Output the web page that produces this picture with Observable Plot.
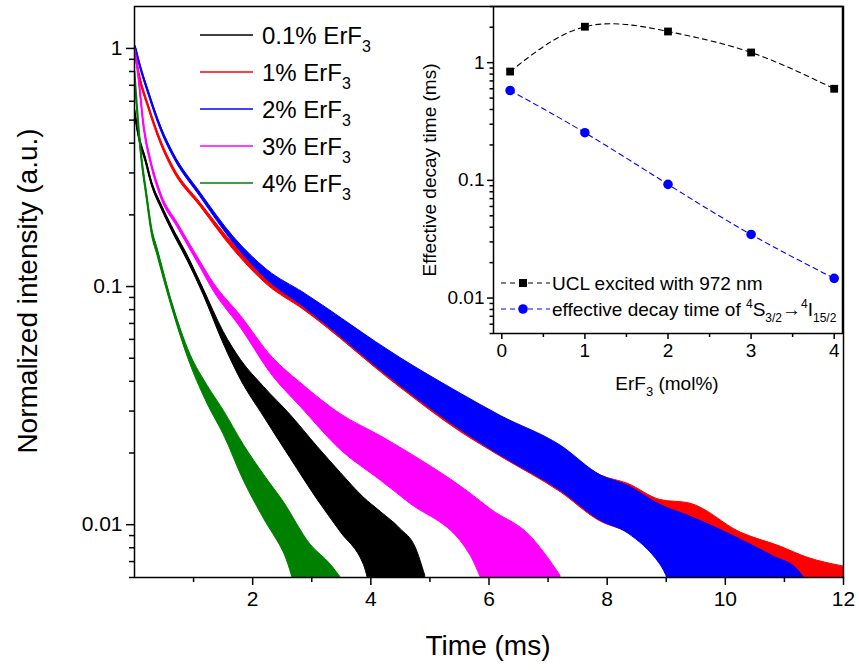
<!DOCTYPE html>
<html><head><meta charset="utf-8">
<script src="https://cdn.jsdelivr.net/npm/d3@7"></script>
<script src="https://cdn.jsdelivr.net/npm/@observablehq/plot@0.6"></script>
<style>
body{margin:0;background:#fff;}
#wrap{position:relative;width:859px;height:670px;font-family:"Liberation Sans",Arial,sans-serif;}
#inset{position:absolute;left:400px;top:0;}
svg{overflow:visible;}
</style>
</head><body><div id="wrap"><div id="main"></div><div id="inset"></div></div>
<script>
// ---- main chart data: [time (ms), lower envelope, centre, upper envelope] (normalized intensity)
const black01 = [
[0.00,0.540,0.550,0.561],[0.07,0.424,0.432,0.441],[0.19,0.332,0.339,0.346],[0.29,0.267,0.272,0.277],
[0.46,0.211,0.2154,0.220],[0.63,0.172,0.176,0.180],[0.90,0.128,0.1317,0.135],[1.17,0.092,0.0948,0.0976],
[1.51,0.0574,0.0608,0.0644],[1.80,0.0406,0.0447,0.0492],[2.19,0.0284,0.0328,0.0379],[2.64,0.0190,0.0234,0.0289],
[3.10,0.0127,0.0164,0.0212],[3.49,0.0093,0.0125,0.0165],[3.88,0.0068,0.0095,0.0130],[4.17,0.004,0.0082,0.0113],
[4.50,0.004,0.0070,0.0096],[4.76,0.004,0.0060,0.0080],[4.92,0.004,0.0050,0.0061]
];
const red1 = [
[0.00,0.98,1.0,1.02],[0.07,0.778,0.793,0.808],[0.24,0.555,0.566,0.577],[0.46,0.388,0.396,0.404],
[0.66,0.305,0.311,0.317],[1.12,0.216,0.220,0.224],[1.68,0.1423,0.1464,0.1506],[2.25,0.1015,0.1065,0.1117],
[2.86,0.0800,0.0855,0.0915],[4.50,0.0376,0.0430,0.0492],[5.52,0.0245,0.0292,0.0347],[6.20,0.0193,0.0234,0.0284],
[7.21,0.0137,0.0171,0.0213],[7.89,0.0103,0.0129,0.0161],[8.35,0.0093,0.01178,0.01485],[8.90,0.0076,0.0103,0.0127],
[9.41,0.0045,0.0089,0.01225],[10.26,0.004,0.0072,0.00926],[10.93,0.004,0.0062,0.00809],[11.39,0.004,0.0055,0.00727],
[12.0,0.004,0.0050,0.00667]
];
const blue2 = [
[0.02,0.98,1.0,1.02],[0.07,0.874,0.891,0.908],[0.24,0.636,0.648,0.661],[0.46,0.444,0.453,0.462],
[0.66,0.349,0.356,0.363],[1.12,0.237,0.242,0.247],[1.68,0.152,0.1567,0.1613],[2.25,0.1065,0.1117,0.1172],
[2.86,0.0823,0.0880,0.0942],[4.50,0.0383,0.0438,0.0501],[5.52,0.0250,0.0298,0.0355],[6.20,0.0195,0.0236,0.0286],
[7.21,0.0139,0.0173,0.0215],[7.89,0.0104,0.0129,0.0161],[8.35,0.0092,0.01156,0.01458],[8.90,0.0068,0.0095,0.0121],
[9.41,0.004,0.0080,0.0108],[10.26,0.004,0.0065,0.00865],[10.82,0.004,0.0055,0.00734],[11.22,0.004,0.0050,0.00648],
[11.35,0.004,0.0050,0.0059]
];
const magenta3 = [
[0.00,0.98,1.0,1.02],[0.05,0.817,0.833,0.850],[0.16,0.457,0.466,0.475],[0.29,0.317,0.323,0.329],
[0.46,0.232,0.237,0.242],[0.73,0.177,0.181,0.185],[1.12,0.1196,0.1231,0.1267],[1.34,0.0957,0.0995,0.1034],
[1.80,0.0670,0.0710,0.0752],[2.34,0.0421,0.0460,0.0502],[2.81,0.0313,0.0351,0.0394],[3.49,0.0206,0.0245,0.0291],
[4.17,0.0153,0.0190,0.0235],[4.62,0.0125,0.0159,0.0202],[5.69,0.0074,0.0100,0.0135],[6.03,0.0050,0.0087,0.0116],
[6.71,0.004,0.0068,0.0089],[6.96,0.004,0.0060,0.00748],[7.21,0.004,0.0050,0.0061]
];
const green4 = [
[0.00,0.78,0.80,0.82],[0.10,0.375,0.385,0.395],[0.21,0.230,0.237,0.245],[0.29,0.167,0.1725,0.178],
[0.39,0.1345,0.1395,0.1445],[0.61,0.0853,0.0878,0.0903],[0.95,0.0469,0.0492,0.0516],[1.24,0.0320,0.0350,0.0382],
[1.51,0.0239,0.0268,0.0301],[1.85,0.0153,0.0182,0.0216],[2.19,0.0106,0.0131,0.0162],[2.52,0.0077,0.0098,0.0125],
[2.98,0.004,0.0070,0.00824],[3.32,0.004,0.0055,0.0068],[3.49,0.004,0.0050,0.0060]
];
const seriesData = [black01, red1, blue2, magenta3, green4];
const seriesLabels = ["0.1% ErF", "1% ErF", "2% ErF", "3% ErF", "4% ErF"];
const seriesColors = ["#000000", "#ff0000", "#0000ff", "#ff00ff", "#008000"];

const xMajorTicks = [2, 4, 6, 8, 10, 12];
const xMinorTicks = [1, 3, 5, 7, 9, 11];
const yMajorTicks = [0.01, 0.1, 1];
const yMinorTicks = [0.006,0.007,0.008,0.009,0.02,0.03,0.04,0.05,0.06,0.07,0.08,0.09,0.2,0.3,0.4,0.5,0.6,0.7,0.8,0.9];

// ---- inset data
const erConc = [0.1, 1, 2, 3, 4];
const uclTime = [0.84, 2.02, 1.84, 1.22, 0.60];
const effTime = [0.58, 0.254, 0.0925, 0.0347, 0.0147];
const insetXMajor = [0, 1, 2, 3, 4];
const insetXMinor = [0.5, 1.5, 2.5, 3.5];
const insetYMajor = [0.01, 0.1, 1];
const insetYMinor = [0.005,0.006,0.007,0.008,0.009,0.02,0.03,0.04,0.05,0.06,0.07,0.08,0.09,0.2,0.3,0.4,0.5,0.6,0.7,0.8,0.9,2,3];

const FONT = '"Liberation Sans", Arial, sans-serif';

// ---- main plot
const seriesMarks = [];
seriesData.forEach((arr, i) => {
  const rows = arr.map(([t, lo, mid, hi]) => ({t, lo, mid, hi}));
  seriesMarks.push(Plot.areaY(rows, {x: "t", y1: "lo", y2: "hi", fill: seriesColors[i], stroke: seriesColors[i], strokeWidth: 1, curve: "monotone-x", clip: true}));
  seriesMarks.push(Plot.line(rows, {x: "t", y: "mid", stroke: seriesColors[i], strokeWidth: 1.8, curve: "monotone-x", clip: true}));
});

const main = Plot.plot({
  width: 859, height: 670,
  marginLeft: 134, marginRight: 16, marginTop: 6, marginBottom: 93,
  x: {domain: [0, 12]},
  y: {type: "log", domain: [0.006, 1.5]},
  style: {fontFamily: FONT, fontSize: "21px", background: "white", color: "black"},
  marks: [
    ...seriesMarks,
    Plot.axisX({ticks: xMajorTicks, tickSize: 8, tickPadding: 6, tickFormat: d => String(d), fontSize: 21, strokeWidth: 1.5, label: null}),
    Plot.axisX({ticks: xMinorTicks, tickSize: 5, tickFormat: () => "", strokeWidth: 1.5, label: null}),
    Plot.axisY({ticks: yMajorTicks, tickSize: 8, tickPadding: 4, tickFormat: d => String(d), fontSize: 21, strokeWidth: 1.5, label: null}),
    Plot.axisY({ticks: yMinorTicks, tickSize: 5, tickFormat: () => "", strokeWidth: 1.5, label: null}),
    Plot.frame({stroke: "black", strokeWidth: 1.5})
  ]
});
document.getElementById("main").appendChild(main);

const msvg = d3.select(main);
msvg.append("text").attr("transform", "translate(30,291) rotate(-90)")
  .attr("text-anchor", "middle").attr("dominant-baseline", "middle")
  .attr("font-size", 28).attr("font-family", FONT).attr("fill", "black")
  .text("Normalized intensity (a.u.)");
msvg.append("text").attr("x", 488).attr("y", 655)
  .attr("text-anchor", "middle").attr("font-size", 28).attr("font-family", FONT).attr("fill", "black")
  .text("Time (ms)");

// main legend
seriesLabels.forEach((lab, i) => {
  const yc = 35 + i * 37;
  msvg.append("line").attr("x1", 200).attr("x2", 253).attr("y1", yc).attr("y2", yc)
    .attr("stroke", seriesColors[i]).attr("stroke-width", 1.6);
  const tx = msvg.append("text").attr("x", 262).attr("y", yc + 8.5).attr("text-anchor", "start")
    .attr("font-size", 24).attr("font-family", FONT).attr("fill", "black");
  tx.append("tspan").text(lab);
  tx.append("tspan").attr("font-size", 16).attr("dy", 8).text("3");
});

// ---- inset plot
const insetRows = erConc.map((c, i) => ({c, ucl: uclTime[i], eff: effTime[i]}));
const inset = Plot.plot({
  width: 459, height: 400,
  marginLeft: 93, marginRight: 17, marginTop: 6, marginBottom: 67,
  x: {domain: [-0.1, 4.1]},
  y: {type: "log", domain: [0.005, 3]},
  style: {fontFamily: FONT, fontSize: "19px", background: "transparent", color: "black"},
  marks: [
    Plot.line(insetRows, {x: "c", y: "ucl", curve: "natural", stroke: "black", strokeWidth: 1.1, strokeDasharray: "5,4"}),
    Plot.line(insetRows, {x: "c", y: "eff", curve: "natural", stroke: "#0000ff", strokeWidth: 1.1, strokeDasharray: "5,4"}),
    Plot.dot(insetRows, {x: "c", y: "ucl", symbol: "square", fill: "black", r: 4.4}),
    Plot.dot(insetRows, {x: "c", y: "eff", symbol: "circle", fill: "#0000ff", r: 4.8}),
    Plot.axisX({ticks: insetXMajor, tickSize: 6, tickPadding: 4, tickFormat: d => String(d), fontSize: 19, strokeWidth: 1.5, label: null}),
    Plot.axisX({ticks: insetXMinor, tickSize: 4, tickFormat: () => "", strokeWidth: 1.5, label: null}),
    Plot.axisY({ticks: insetYMajor, tickSize: 6, tickPadding: 3, tickFormat: d => String(d), fontSize: 19, strokeWidth: 1.5, label: null}),
    Plot.axisY({ticks: insetYMinor, tickSize: 3.5, tickFormat: () => "", strokeWidth: 1.5, label: null}),
    Plot.frame({stroke: "black", strokeWidth: 1.5})
  ]
});
document.getElementById("inset").appendChild(inset);

const isvg = d3.select(inset);
isvg.append("text").attr("transform", "translate(31,170) rotate(-90)")
  .attr("text-anchor", "middle").attr("dominant-baseline", "middle")
  .attr("font-size", 19).attr("font-family", FONT).attr("fill", "black")
  .text("Effective decay time (ms)");
const xl = isvg.append("text").attr("x", 267).attr("y", 390)
  .attr("text-anchor", "middle").attr("font-size", 19).attr("font-family", FONT).attr("fill", "black");
xl.append("tspan").text("ErF");
xl.append("tspan").attr("font-size", 13).attr("dy", 6).text("3");
xl.append("tspan").attr("dy", -6).text(" (mol%)");

// inset legend
const legRows = [
  {y: 283, color: "black", symbol: "square"},
  {y: 309, color: "#0000ff", symbol: "circle"}
];
legRows.forEach(r => {
  isvg.append("line").attr("x1", 101).attr("x2", 150).attr("y1", r.y).attr("y2", r.y)
    .attr("stroke", r.color).attr("stroke-width", 1.1).attr("stroke-dasharray", "5,4");
  if (r.symbol === "square") {
    isvg.append("rect").attr("x", 119).attr("y", r.y - 4).attr("width", 8).attr("height", 8).attr("fill", r.color);
  } else {
    isvg.append("circle").attr("cx", 123).attr("cy", r.y).attr("r", 4.8).attr("fill", r.color);
  }
});
isvg.append("text").attr("x", 152).attr("y", 290).attr("text-anchor", "start").attr("font-size", 19).attr("font-family", FONT).attr("fill", "black")
  .text("UCL excited with 972 nm");
const l2 = isvg.append("text").attr("x", 152).attr("y", 316).attr("text-anchor", "start").attr("font-size", 19).attr("font-family", FONT).attr("fill", "black");
l2.append("tspan").text("effective decay time of ");
l2.append("tspan").attr("font-size", 12).attr("dy", -8).text("4");
l2.append("tspan").attr("dy", 8).text("S");
l2.append("tspan").attr("font-size", 12).attr("dy", 6).text("3/2");
l2.append("tspan").attr("dy", -6).text("\u2192");
l2.append("tspan").attr("font-size", 12).attr("dy", -8).text("4");
l2.append("tspan").attr("dy", 8).text("I");
l2.append("tspan").attr("font-size", 12).attr("dy", 6).text("15/2");
</script>
</body></html>
